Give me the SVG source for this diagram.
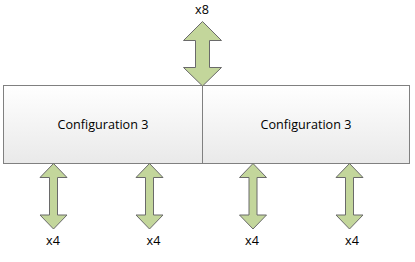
<svg xmlns="http://www.w3.org/2000/svg" width="415" height="262" viewBox="0 0 415 262">
  <defs>
    <linearGradient id="boxGrad" x1="0" y1="0" x2="0" y2="1">
      <stop offset="0" stop-color="#ffffff"/>
      <stop offset="1" stop-color="#e9e9e9"/>
    </linearGradient>
  </defs>
  <style>
    .box { fill: url(#boxGrad); stroke: #808080; stroke-width: 1; }
    .arrow { fill: #c3d69b; stroke: #6a6a6a; stroke-width: 1; stroke-linejoin: miter; }
    .lbl { font-family: "Open Sans", "Liberation Sans", sans-serif; font-size: 12.6px; fill: #000000; text-anchor: middle; }
  </style>
  <rect width="415" height="262" fill="#ffffff"/>
  <g id="node-config-left">
    <rect class="box" x="3.5" y="85.5" width="199" height="78"/>
    <text class="lbl" x="103" y="129">Configuration 3</text>
  </g>
  <g id="node-config-right">
    <rect class="box" x="202.5" y="85.5" width="207" height="78"/>
    <text class="lbl" x="306" y="129">Configuration 3</text>
  </g>
  <g id="connectors">
    <g id="arrow-top">
      <path class="arrow" d="M202.5,21.5 L221.5,40.5 L209.5,40.5 L209.5,67.5 L221.5,67.5 L202.5,86 L183.5,67.5 L195.5,67.5 L195.5,40.5 L183.5,40.5 Z"/>
      <text class="lbl" x="202" y="14">x8</text>
    </g>
    <g id="arrow-b1">
      <path class="arrow" d="M53.5,163.5 L67,177.5 L57.5,177.5 L57.5,215 L67,215 L53.5,229 L40,215 L49.5,215 L49.5,177.5 L40,177.5 Z"/>
      <text class="lbl" x="53" y="245">x4</text>
    </g>
    <g id="arrow-b2">
      <path class="arrow" d="M149.5,163.5 L163,177.5 L153.5,177.5 L153.5,215 L163,215 L149.5,229 L136,215 L145.5,215 L145.5,177.5 L136,177.5 Z"/>
      <text class="lbl" x="153.5" y="245">x4</text>
    </g>
    <g id="arrow-b3">
      <path class="arrow" d="M253,163.5 L266.5,177.5 L257,177.5 L257,215 L266.5,215 L253,229 L239.5,215 L249,215 L249,177.5 L239.5,177.5 Z"/>
      <text class="lbl" x="252" y="245">x4</text>
    </g>
    <g id="arrow-b4">
      <path class="arrow" d="M349.5,163.5 L363,177.5 L353.5,177.5 L353.5,215 L363,215 L349.5,229 L336,215 L345.5,215 L345.5,177.5 L336,177.5 Z"/>
      <text class="lbl" x="352" y="245">x4</text>
    </g>
  </g>
</svg>
